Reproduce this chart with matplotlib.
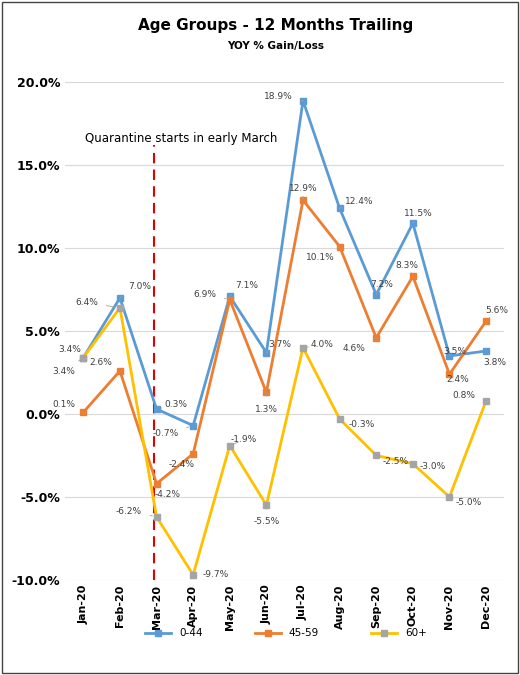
import matplotlib
matplotlib.use("Agg")
import matplotlib.pyplot as plt
from matplotlib.ticker import FuncFormatter

months = ["Jan-20","Feb-20","Mar-20","Apr-20","May-20","Jun-20","Jul-20","Aug-20","Sep-20","Oct-20","Nov-20","Dec-20"]
g044 = [3.4,7.0,0.3,-0.7,7.1,3.7,18.9,12.4,7.2,11.5,3.5,3.8]
g4559 = [0.1,2.6,-4.2,-2.4,6.9,1.3,12.9,10.1,4.6,8.3,2.4,5.6]
g60 = [3.4,6.4,-6.2,-9.7,-1.9,-5.5,4.0,-0.3,-2.5,-3.0,-5.0,0.8]

fig = plt.figure(figsize=(5.2,6.75), dpi=100)
fig.patches.append(plt.Rectangle((0.003,0.003),0.994,0.994,transform=fig.transFigure,fill=False,ec="#444",lw=1))
ax = fig.add_axes([0.125,0.141,0.845,0.737])
x = range(len(months))
ax.plot(x,g044,color="#5B9BD5",lw=2,marker="s",ms=5,label="0-44",zorder=3)
ax.plot(x,g4559,color="#ED7D31",lw=2,marker="s",ms=5,label="45-59",zorder=3)
ax.plot(x,g60,color="#FFC000",lw=2,marker="s",ms=5,mfc="#A5A5A5",mec="#A5A5A5",label="60+",zorder=3)

ax.set_ylim(-10,20)
ax.set_xlim(-0.5,11.5)
ax.set_yticks(range(-10,21,5))
ax.yaxis.set_major_formatter(FuncFormatter(lambda v,p: f"{v:.1f}%"))
ax.set_xticks(list(x))
ax.set_xticklabels(months,rotation=90,fontsize=8,fontweight="bold")
ax.tick_params(axis="y",labelsize=9,length=0)
ax.tick_params(axis="x",length=0)
for lab in ax.get_yticklabels(): lab.set_fontweight("bold")
ax.grid(axis="y",color="#d9d9d9",lw=0.8)
for s in ax.spines.values(): s.set_visible(False)
ax.axvline(1.93,ymin=0,ymax=(16.2+10)/30,color="#e00000",ls=(0,(5,3)),lw=1.5)
ax.text(0.05,16.4,"Quarantine starts in early March",fontsize=8.5)

offs = {
 "g044":[(-10,6),(14,8),(14,3),(-20,-6),(12,8),(10,6),(-18,3),(14,5),(4,7),(4,7),(4,3),(6,-8)],
 "g4559":[(-14,6),(-14,6),(8,-8),(-8,-8),(-18,4),(0,-12),(0,8),(-14,-8),(-16,-8),(-4,8),(6,-4),(8,8)],
 "g60":[(-14,-10),(-24,4),(-20,4),(16,0),(10,4),(0,-12),(14,2),(16,-4),(14,-4),(14,-2),(14,-4),(-16,4)],
}
def lab(data,key):
    for i,v in enumerate(data):
        dx,dy = offs[key][i]
        ax.annotate(f"{v:.1f}%",(i,v),xytext=(dx,dy),textcoords="offset points",fontsize=6.5,color="#404040",ha="center",va="center",
                    arrowprops=dict(arrowstyle="-",color="#a0a0a0",lw=0.6,shrinkA=4,shrinkB=3))
lab(g044,"g044")
lab(g4559,"g4559")
lab(g60,"g60")

fig.text(0.53,0.955,"Age Groups - 12 Months Trailing",ha="center",fontsize=11,fontweight="bold")
fig.text(0.53,0.928,"YOY % Gain/Loss",ha="center",fontsize=7.5,fontweight="bold")
fig.legend(loc="center",bbox_to_anchor=(0.55,0.062),ncol=3,frameon=False,fontsize=7.5,handlelength=2.5,columnspacing=5)
fig.savefig("out.png",dpi=100)
